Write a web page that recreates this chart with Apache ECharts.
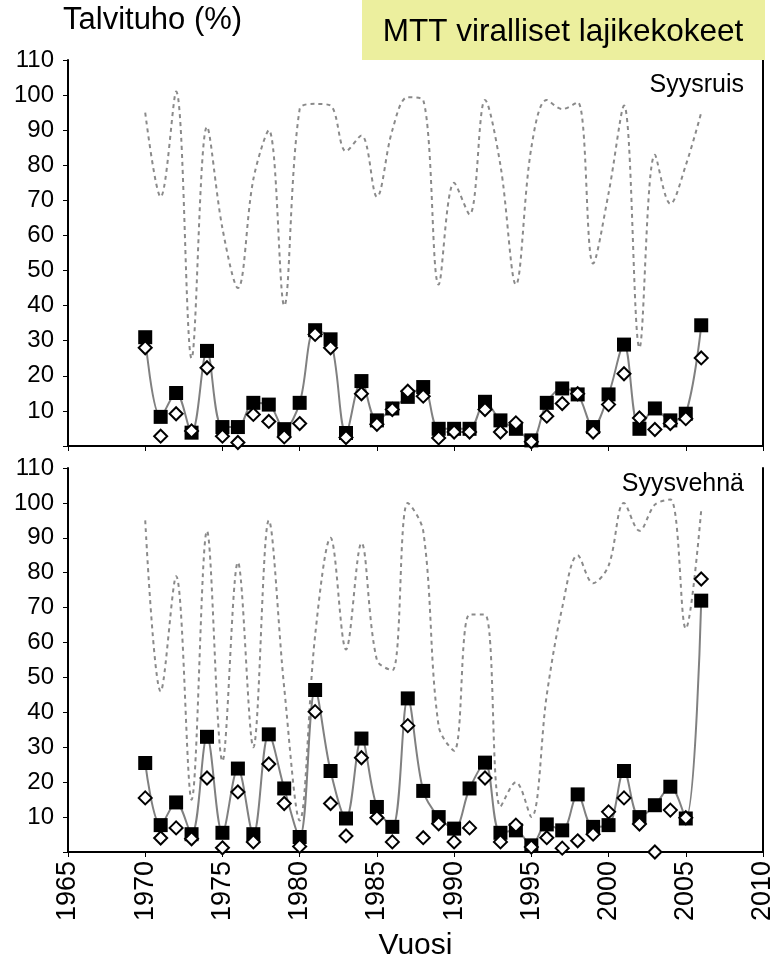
<!DOCTYPE html>
<html>
<head>
<meta charset="utf-8">
<script src="https://cdn.jsdelivr.net/npm/echarts@6/dist/echarts.min.js"></script>
<style>
  html, body { margin: 0; padding: 0; background: #fff; }
  #chart { width: 777px; height: 966px; }
</style>
</head>
<body>
<div id="chart"></div>
<script>
// vuodet
const years = [1970, 1971, 1972, 1973, 1974, 1975, 1976, 1977, 1978, 1979,
  1980, 1981, 1982, 1983, 1984, 1985, 1986, 1987, 1988, 1989,
  1990, 1991, 1992, 1993, 1994, 1995, 1996, 1997, 1998, 1999,
  2000, 2001, 2002, 2003, 2004, 2005, 2006]

// Syysruis
const ruisSquare = [31, 8.3, 15.1, 3.8, 27.1, 5.4, 5.4, 12.3, 11.8, 4.8,
  12.3, 33, 30.4, 3.7, 18.5, 7.3, 10.7, 14, 16.8, 4.9,
  4.9, 4.9, 12.6, 7.3, 4.9, 1.6, 12.3, 16.4, 14.7, 5.4,
  14.7, 28.9, 4.9, 10.7, 7.3, 9.2, 34.4]
const ruisDiamond = [28, 2.8, 9.2, 4.3, 22.3, 2.8, 1.0, 9.0, 7.0, 2.6,
  6.4, 31.8, 28, 2.4, 14.9, 6.2, 10.4, 15.6, 14.2, 2.3,
  4.0, 4.0, 10.4, 4.0, 6.6, 1.2, 8.5, 12.1, 14.9, 4.0,
  11.8, 20.6, 8.0, 4.7, 6.4, 7.8, 25.1]
const ruisDotted = [95, 71, 101, 25, 91, 62, 45, 76, 90, 40,
  96, 97.5, 97, 84, 88.5, 71, 90, 99.4, 98.6, 46,
  75, 66, 98.6, 80, 46, 85, 98.6, 96, 98, 52,
  72, 97, 28, 83, 69, 80, 95]

// Syysvehnä
const vehnaSquare = [25.5, 7.7, 14.2, 5.1, 33.0, 5.5, 23.9, 5.1, 33.7, 18.2,
  4.3, 46.4, 23.2, 9.6, 32.5, 12.9, 7.2, 44.0, 17.5, 10.0,
  6.7, 18.2, 25.6, 5.5, 6.2, 1.9, 7.9, 6.2, 16.5, 7.2,
  7.7, 23.2, 10.0, 13.4, 18.7, 9.6, 72.0]
const vehnaDiamond = [15.5, 4.0, 6.9, 3.8, 21.2, 1.2, 17.2, 2.9, 25.2, 13.9,
  1.6, 40.2, 13.9, 4.6, 27.0, 9.8, 2.9, 36.2, 4.1, 8.1,
  2.9, 6.9, 21.2, 2.9, 7.7, 1.4, 4.1, 1.1, 3.2, 5.1,
  11.5, 15.5, 8.0, 0, 12.0, 9.8, 78.2]
const vehnaDotted = [95, 46, 79, 15, 92, 26, 83, 30, 95, 47,
  9, 62, 90, 58, 88.5, 55, 52, 100, 92, 36,
  29, 68, 68, 13, 20, 10, 45, 70, 85, 77,
  82, 100, 92, 99.5, 101, 64, 98]

const xTicks = [1965, 2010, 5]
const yTicks = [0, 110, 10]

const font = 'Liberation Sans, Arial, sans-serif'
const pairs = vals => years.map((y, i) => [y, vals[i]])

function xAxisFor(grid, opts) {
    return Object.assign({
        gridIndex: grid,
        type: 'value',
        min: xTicks[0],
        max: xTicks[1],
        interval: xTicks[2],
        axisLine: { lineStyle: { color: '#000', width: 2 } },
        axisTick: { length: 5, lineStyle: { color: '#000', width: 1 } },
        axisLabel: { show: false },
        splitLine: { show: false }
    }, opts)
}

function yAxisFor(grid, opts) {
    return Object.assign({
        gridIndex: grid,
        type: 'value',
        min: yTicks[0],
        max: yTicks[1],
        interval: yTicks[2],
        axisLine: { show: true, lineStyle: { color: '#000', width: 2 } },
        axisTick: { show: true, length: 5, lineStyle: { color: '#000', width: 1 } },
        axisLabel: {
            color: '#000',
            fontSize: 24,
            fontFamily: font,
            margin: 14,
            formatter: v => (v === 0 ? '' : String(v))
        },
        splitLine: { show: false }
    }, opts)
}

// pelkkä reunaviiva
const edge = { axisTick: { show: false }, axisLabel: { show: false } }

function panelSeries(xi, yi, dotted, square, diamond) {
    return [
        {
            type: 'line',
            xAxisIndex: xi,
            yAxisIndex: yi,
            data: pairs(dotted),
            smooth: 0.35,
            symbol: 'none',
            lineStyle: { color: '#8a8a8a', width: 2, type: [4, 4] },
            z: 2
        },
        {
            type: 'line',
            xAxisIndex: xi,
            yAxisIndex: yi,
            data: pairs(square),
            smooth: 0.35,
            symbol: 'rect',
            symbolSize: 14,
            showAllSymbol: true,
            lineStyle: { color: '#808080', width: 2 },
            itemStyle: { color: '#000' },
            z: 3
        },
        {
            type: 'scatter',
            xAxisIndex: xi,
            yAxisIndex: yi,
            data: pairs(diamond),
            symbol: 'diamond',
            symbolSize: 13,
            itemStyle: { color: '#fff', borderColor: '#000', borderWidth: 2, opacity: 1 },
            z: 4
        }
    ]
}

const chart = echarts.init(document.getElementById('chart'))
const option = {
    animation: false,
    backgroundColor: '#fff',
    grid: [
        { left: 68, top: 60, width: 695, height: 386 },
        { left: 68, top: 468, width: 695, height: 384 }
    ],
    xAxis: [
        xAxisFor(0, {}),
        xAxisFor(0, Object.assign({ position: 'top' }, edge)),
        xAxisFor(1, {
            axisLabel: {
                show: true,
                rotate: 90,
                color: '#000',
                fontSize: 27,
                fontFamily: font,
                margin: 9,
                formatter: v => String(v)
            },
            name: 'Vuosi',
            nameLocation: 'middle',
            nameGap: 79,
            nameTextStyle: { color: '#000', fontSize: 30, fontFamily: font, verticalAlign: 'top' }
        })
    ],
    yAxis: [
        yAxisFor(0, {}),
        yAxisFor(0, Object.assign({ position: 'right' }, edge)),
        yAxisFor(1, {}),
        yAxisFor(1, Object.assign({ position: 'right' }, edge))
    ],
    series: [
        ...panelSeries(0, 0, ruisDotted, ruisSquare, ruisDiamond),
        ...panelSeries(2, 2, vehnaDotted, vehnaSquare, vehnaDiamond)
    ],
    graphic: [
        {
            type: 'text',
            left: 63,
            top: 5,
            style: { text: 'Talvituho (%)', fill: '#000', font: '31px ' + font }
        },
        {
            type: 'rect',
            shape: { x: 362, y: 0, width: 403, height: 60 },
            style: { fill: '#ecef9e' },
            z: 100
        },
        {
            type: 'text',
            x: 563,
            y: 32,
            z: 101,
            style: {
                text: 'MTT viralliset lajikekokeet',
                fill: '#000',
                font: '31.5px ' + font,
                align: 'center',
                verticalAlign: 'middle',
                textAlign: 'center',
                textVerticalAlign: 'middle'
            }
        },
        {
            type: 'text',
            x: 744,
            y: 85,
            z: 101,
            style: {
                text: 'Syysruis',
                fill: '#000',
                font: '25px ' + font,
                align: 'right',
                verticalAlign: 'middle',
                textAlign: 'right',
                textVerticalAlign: 'middle'
            }
        },
        {
            type: 'text',
            x: 744,
            y: 484,
            z: 101,
            style: {
                text: 'Syysvehnä',
                fill: '#000',
                font: '25px ' + font,
                align: 'right',
                verticalAlign: 'middle',
                textAlign: 'right',
                textVerticalAlign: 'middle'
            }
        }
    ]
}
chart.setOption(option)
</script>
</body>
</html>
